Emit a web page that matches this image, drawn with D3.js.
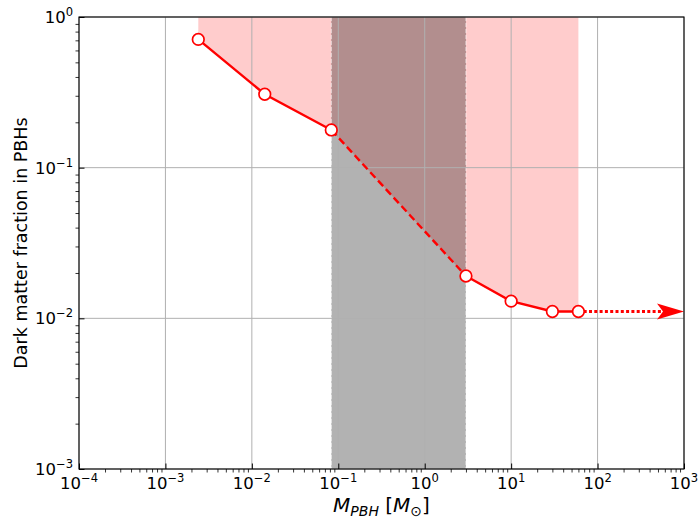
<!DOCTYPE html>
<html>
<head>
<meta charset="utf-8">
<script src="https://cdn.jsdelivr.net/npm/d3@7"></script>
<style>
  body { margin: 0; background: #fff; }
  svg { display: block; font-family: "DejaVu Sans", sans-serif; }
  .domain { display: none; }
</style>
</head>
<body>
<div id="chart"></div>
<script>
// PBH mass (solar masses) and dark matter fraction upper limits
const massMsun = [2.4e-3, 0.0141, 0.083, 3.0, 10, 30, 60];
const fractionPBH = [0.71, 0.307, 0.178, 0.0191, 0.0130, 0.0111, 0.0111];
const arrowMass = 1e3;          // dotted continuation goes to the edge
const excludedBand = [0.083, 3.0]; // grey band in mass
const xDecades = [-4, -3, -2, -1, 0, 1, 2, 3];
const yDecades = [-3, -2, -1, 0];

const width = 700;
const height = 519;
const margin = { top: 17, right: 16, bottom: 50, left: 79 };
const w = width - margin.left - margin.right;
const h = height - margin.top - margin.bottom;

const svg = d3.select('#chart')
    .append('svg')
    .attr('width', width)
    .attr('height', height);

const g = svg.append('g').attr('transform', `translate(${margin.left},${margin.top})`);

const x = d3.scaleLog().domain([1e-4, 1e3]).range([0, w]);
const y = d3.scaleLog().domain([1e-3, 1]).range([h, 0]);

const pts = massMsun.map((m, i) => ({ m, f: fractionPBH[i] }));

// pink allowed-region fill above the curve
const area = d3.area()
    .x(d => x(d.m))
    .y0(y(1))
    .y1(d => y(d.f));
g.append('path')
    .datum(pts)
    .attr('d', area)
    .attr('fill', 'rgba(255,0,0,0.2)');

// grey band
g.append('rect')
    .attr('x', x(excludedBand[0]))
    .attr('y', 0)
    .attr('width', x(excludedBand[1]) - x(excludedBand[0]))
    .attr('height', h)
    .attr('fill', 'rgba(0,0,0,0.3)');
excludedBand.forEach(v => {
    g.append('line')
        .attr('x1', x(v)).attr('x2', x(v))
        .attr('y1', 0).attr('y2', h)
        .attr('stroke', 'rgba(255,255,255,0.6)')
        .attr('stroke-width', 1)
        .attr('stroke-dasharray', '4,2');
});

// grid lines at decades
const grid = g.append('g');
xDecades.forEach(p => {
    grid.append('line')
        .attr('x1', x(10 ** p)).attr('x2', x(10 ** p))
        .attr('y1', 0).attr('y2', h)
        .attr('stroke', '#b0b0b0').attr('stroke-width', 1);
});
yDecades.forEach(p => {
    grid.append('line')
        .attr('x1', 0).attr('x2', w)
        .attr('y1', y(10 ** p)).attr('y2', y(10 ** p))
        .attr('stroke', '#b0b0b0').attr('stroke-width', 1);
});

// axes: major ticks inward, minor ticks outward
const minorX = [];
xDecades.slice(0, -1).forEach(p => { for (let k = 2; k < 10; k++) minorX.push(k * 10 ** p); });
const minorY = [];
yDecades.slice(0, -1).forEach(p => { for (let k = 2; k < 10; k++) minorY.push(k * 10 ** p); });

g.append('g')
    .attr('transform', `translate(0,${h})`)
    .call(d3.axisBottom(x).tickValues(xDecades.map(p => 10 ** p)).tickSizeInner(-5.5).tickSizeOuter(0).tickFormat(''))
    .call(s => s.selectAll('line').attr('stroke', '#000').attr('stroke-width', 1));
g.append('g')
    .attr('transform', `translate(0,${h})`)
    .call(d3.axisBottom(x).tickValues(minorX).tickSize(3.5).tickFormat(''))
    .call(s => s.selectAll('line').attr('stroke', '#000').attr('stroke-width', 0.8));
g.append('g')
    .call(d3.axisLeft(y).tickValues(yDecades.map(p => 10 ** p)).tickSizeInner(-5.5).tickSizeOuter(0).tickFormat(''))
    .call(s => s.selectAll('line').attr('stroke', '#000').attr('stroke-width', 1));
g.append('g')
    .call(d3.axisLeft(y).tickValues(minorY).tickSize(3.5).tickFormat(''))
    .call(s => s.selectAll('line').attr('stroke', '#000').attr('stroke-width', 0.8));

// tick labels with superscript exponents
const fs = 16.5;
function powLabel(sel, p) {
    sel.append('tspan').text('10');
    sel.append('tspan')
        .attr('dy', -7)
        .attr('font-size', fs * 0.7)
        .text(p < 0 ? '\u2212' + (-p) : String(p));
}
xDecades.forEach(p => {
    const t = g.append('text')
        .attr('x', x(10 ** p))
        .attr('y', h + 20)
        .attr('text-anchor', 'middle')
        .attr('font-size', fs)
        .attr('fill', '#000');
    powLabel(t, p);
});
yDecades.forEach(p => {
    const t = g.append('text')
        .attr('x', -6)
        .attr('y', y(10 ** p) + 6)
        .attr('text-anchor', 'end')
        .attr('font-size', fs)
        .attr('fill', '#000');
    powLabel(t, p);
});

// the curve: solid, dashed across the band, solid, then dotted to an arrow
const line = d3.line().x(d => x(d.m)).y(d => y(d.f));
const red = '#ff0000';
g.append('path').datum(pts.slice(0, 3)).attr('d', line)
    .attr('fill', 'none').attr('stroke', red).attr('stroke-width', 2.4);
g.append('path').datum(pts.slice(2, 4)).attr('d', line)
    .attr('fill', 'none').attr('stroke', red).attr('stroke-width', 2.4)
    .attr('stroke-dasharray', '7.5,4');
g.append('path').datum(pts.slice(3)).attr('d', line)
    .attr('fill', 'none').attr('stroke', red).attr('stroke-width', 2.4);

const last = pts[pts.length - 1];
const tipX = x(arrowMass);
const tipY = y(last.f);
g.append('line')
    .attr('x1', x(last.m)).attr('y1', tipY)
    .attr('x2', tipX - 22).attr('y2', tipY)
    .attr('stroke', red).attr('stroke-width', 2.8)
    .attr('stroke-dasharray', '3,2.3');
g.append('path')
    .attr('d', `M${tipX},${tipY} L${tipX - 27},${tipY - 8} L${tipX - 21},${tipY} L${tipX - 27},${tipY + 8} Z`)
    .attr('fill', red);

g.selectAll('circle')
    .data(pts)
    .join('circle')
    .attr('cx', d => x(d.m))
    .attr('cy', d => y(d.f))
    .attr('r', 5.8)
    .attr('fill', '#fff')
    .attr('stroke', red)
    .attr('stroke-width', 1.7);

// frame
g.append('rect')
    .attr('width', w).attr('height', h)
    .attr('fill', 'none').attr('stroke', '#000').attr('stroke-width', 1.1);

// axis titles
svg.append('text')
    .attr('transform', `translate(${21},${margin.top + h / 2}) rotate(-90)`)
    .attr('text-anchor', 'middle')
    .attr('dy', '0.35em')
    .attr('font-size', 17.5)
    .text('Dark matter fraction in PBHs');

const xt = svg.append('text')
    .attr('x', margin.left + w / 2)
    .attr('y', 512)
    .attr('text-anchor', 'middle')
    .attr('font-size', 20);
xt.append('tspan').attr('font-style', 'italic').text('M');
xt.append('tspan').attr('font-style', 'italic').attr('font-size', 14).attr('dy', 3.5).text('PBH');
xt.append('tspan').attr('dy', -3.5).text(' [');
xt.append('tspan').attr('font-style', 'italic').text('M');
xt.append('tspan').attr('font-size', 14).attr('dy', 3.5).text('\u2299');
xt.append('tspan').attr('dy', -3.5).text(']');
</script>
</body>
</html>
